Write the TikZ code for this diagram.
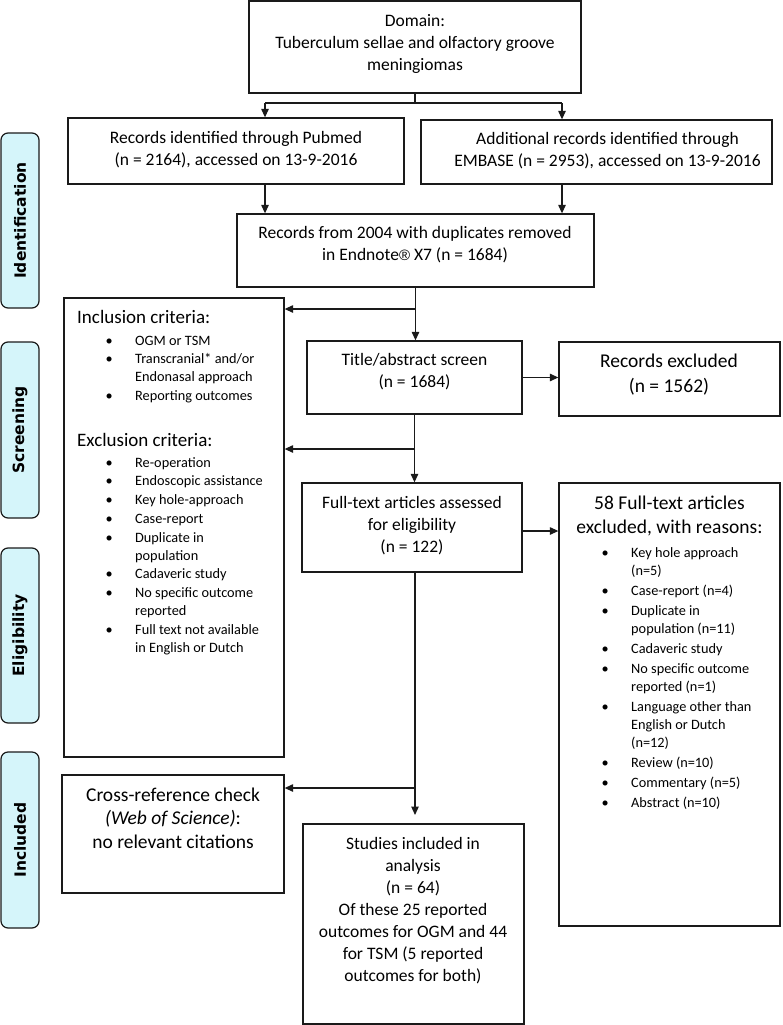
\documentclass[tikz,border=0pt]{standalone}
\usepackage{fontspec}
\setmainfont{Carlito}
\newfontfamily\sidefont{DejaVu Sans}
\newfontfamily\regfont{Liberation Sans}
\usetikzlibrary{arrows.meta}
\definecolor{sidefill}{HTML}{D5F5FA}
\definecolor{ink}{HTML}{1A1A1A}
\newcommand{\fst}{\rule{0pt}{15pt}}
\newcommand{\bul}[1]{\makebox[#1][l]{\textbullet}}
\tikzset{
  box/.style={draw=ink, line width=1.3pt, rectangle, inner sep=0pt},
  side/.style={draw=ink, fill=sidefill, line width=1.2pt, rounded corners=7pt, minimum width=38pt, inner sep=0pt},
  sidetxt/.style={rotate=90, font=\sidefont\bfseries\fontsize{15.5}{17}\selectfont, inner sep=0pt},
  txt/.style={anchor=north, inner sep=0pt, align=center, font=\fontsize{17.5}{22}\selectfont},
  big/.style={anchor=north, inner sep=0pt, align=center, font=\fontsize{19.5}{24}\selectfont},
  lst/.style={anchor=north west, inner sep=0pt, align=left, font=\fontsize{14.3}{18}\selectfont},
  ln/.style={draw=ink, line width=1.2pt},
  arr/.style={ln, -{Triangle[length=8.5pt,width=7.5pt]}}
}
\begin{document}
\begin{tikzpicture}[x=1pt,y=-1pt]
\useasboundingbox (0,0) rectangle (782,1025);

% side labels
\node[side, minimum height=175pt] (sid) at (20,220.5) {};
\node[sidetxt] (sidT) at (sid.center) {Identification};
\node[side, minimum height=176pt] (ssc) at (20,430) {};
\node[sidetxt] (sscT) at (ssc.center) {Screening};
\node[side, minimum height=175pt] (sel) at (20,635.5) {};
\node[sidetxt] (selT) at (sel.center) {Eligibility};
\node[side, minimum height=176pt] (sin) at (20,840) {};
\node[sidetxt] (sinT) at (sin.center) {Included};

% boxes
\node[box, minimum width=332pt, minimum height=92pt] (dom) at (415,47) {};
\node[box, minimum width=336pt, minimum height=66pt] (pub) at (236,151) {};
\node[box, minimum width=351pt, minimum height=64pt] (emb) at (596.5,152) {};
\node[box, minimum width=357pt, minimum height=73pt] (rec) at (415.5,250.5) {};
\node[box, minimum width=220pt, minimum height=459pt] (crit) at (174,527.5) {};
\node[box, minimum width=215pt, minimum height=73pt] (tit) at (414.5,377.5) {};
\node[box, minimum width=221pt, minimum height=74pt] (exa) at (669.5,379) {};
\node[box, minimum width=220pt, minimum height=89pt] (full) at (412,527.5) {};
\node[box, minimum width=221pt, minimum height=443pt] (exb) at (669.5,704.5) {};
\node[box, minimum width=222pt, minimum height=118pt] (xref) at (173,834) {};
\node[box, minimum width=221pt, minimum height=200pt] (stud) at (413.5,924) {};

% texts
\node[txt] (domT) at (415,11) {\fst Domain:\\Tuberculum sellae and olfactory groove\\meningiomas};
\node[txt] (pubT) at (236,128) {\fst Records identified through Pubmed\\(n = 2164), accessed on 13-9-2016};
\node[txt] (embT) at (607.5,129) {\fst Additional records identified through\\EMBASE (n = 2953), accessed on 13-9-2016};
\node[txt] (recT) at (415,223) {\fst Records from 2004 with duplicates removed\\in Endnote{\regfont\fontsize{15}{22}\selectfont ®} X7 (n = 1684)};
\node[txt] (titT) at (414.5,350) {\fst Title/abstract screen\\(n = 1684)};
\node[big, font=\fontsize{19.5}{25}\selectfont] (exaT) at (669,352) {\fst Records excluded\\(n = 1562)};
\node[txt] (fullT) at (412,493) {\fst Full-text articles assessed\\for eligibility\\(n = 122)};
\node[big] (exbT) at (669.5,494) {\fst 58 Full-text articles\\excluded, with reasons:};
\node[lst] (exbL) at (601.5,542) {\fst\bul{29.5pt}Key hole approach\\
\hspace*{29.5pt}(n=5)\\[2pt]
\bul{29.5pt}Case-report (n=4)\\[2pt]
\bul{29.5pt}Duplicate in\\
\hspace*{29.5pt}population (n=11)\\[2pt]
\bul{29.5pt}Cadaveric study\\[2pt]
\bul{29.5pt}No specific outcome\\
\hspace*{29.5pt}reported (n=1)\\[2pt]
\bul{29.5pt}Language other than\\
\hspace*{29.5pt}English or Dutch\\
\hspace*{29.5pt}(n=12)\\[2pt]
\bul{29.5pt}Review (n=10)\\[2pt]
\bul{29.5pt}Commentary (n=5)\\[2pt]
\bul{29.5pt}Abstract (n=10)};
\node[anchor=north west, inner sep=0pt, font=\fontsize{19}{23}\selectfont] (incH) at (77,308) {\fst Inclusion criteria:};
\node[lst] (incL) at (105.5,330) {\fst\bul{29.5pt}OGM or TSM\\[0.7pt]
\bul{29.5pt}Transcranial* and/or\\
\hspace*{29.5pt}Endonasal approach\\[0.7pt]
\bul{29.5pt}Reporting outcomes};
\node[anchor=north west, inner sep=0pt, font=\fontsize{19}{23}\selectfont] (excH) at (77,431) {\fst Exclusion criteria:};
\node[lst] (excL) at (105.5,452) {\fst\bul{29.5pt}Re-operation\\[0.7pt]
\bul{29.5pt}Endoscopic assistance\\[0.7pt]
\bul{29.5pt}Key hole-approach\\[0.7pt]
\bul{29.5pt}Case-report\\[0.7pt]
\bul{29.5pt}Duplicate in\\
\hspace*{29.5pt}population\\[0.7pt]
\bul{29.5pt}Cadaveric study\\[0.7pt]
\bul{29.5pt}No specific outcome\\
\hspace*{29.5pt}reported\\[0.7pt]
\bul{29.5pt}Full text not available\\
\hspace*{29.5pt}in English or Dutch};
\node[big, font=\fontsize{19.5}{23.5}\selectfont] (xrefT) at (173,786) {\fst Cross-reference check\\\textit{(Web of Science)}:\\no relevant citations};
\node[txt] (studT) at (413,834) {\fst Studies included in\\analysis\\(n = 64)\\Of these 25 reported\\outcomes for OGM and 44\\for TSM (5 reported\\outcomes for both)};

% connectors
\coordinate (jL) at (265,103);
\coordinate (jR) at (562,103);
\draw[ln] (dom.south) -- (dom.south |- jL);
\draw[ln] (jL) -- (jR);
\draw[arr] (jL) -- (jL |- pub.north);
\draw[arr] (jR) -- (jR |- emb.north);
\draw[arr] (jL |- pub.south) -- (jL |- rec.north);
\draw[arr] (jR |- emb.south) -- (jR |- rec.north);
\draw[arr] (rec.south) -- (rec.south |- tit.north);
\coordinate (k1) at (415,309);
\draw[arr] (k1) -- (k1 -| crit.east);
\draw[arr] (tit.east) -- (tit.east -| exa.west);
\draw[arr] (tit.south) -- (tit.south |- full.north);
\coordinate (k2) at (415,449);
\draw[arr] (k2) -- (k2 -| crit.east);
\coordinate (k3y) at (0,531);
\draw[arr] (full.east |- k3y) -- (exb.west |- k3y);
\coordinate (k4) at (415,815);
\draw[arr] (full.south -| k4) -- (k4);
\coordinate (k5) at (415,788);
\draw[arr] (k5) -- (k5 -| xref.east);
\end{tikzpicture}
\end{document}
